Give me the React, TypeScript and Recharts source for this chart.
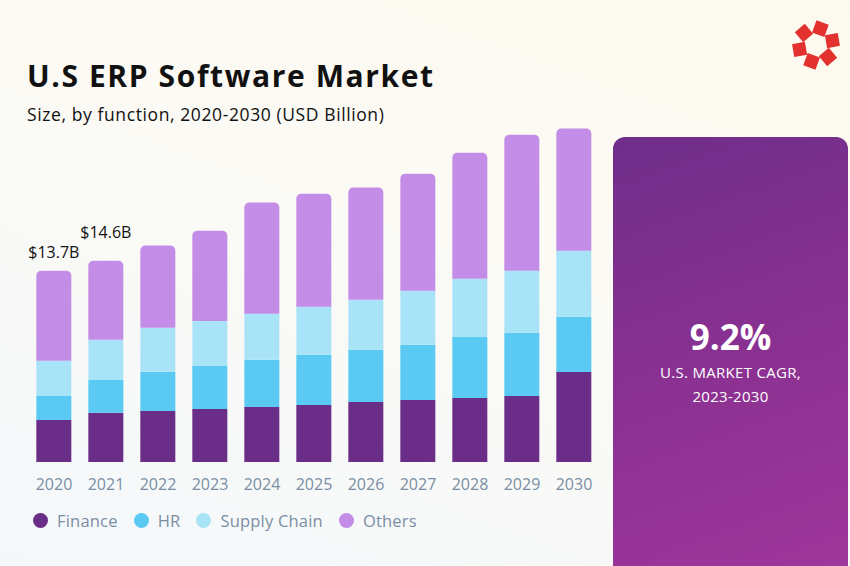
import React from 'react';
import { BarChart, Bar, XAxis, YAxis, Legend, LabelList } from 'recharts';

const years = ['2020', '2021', '2022', '2023', '2024', '2025', '2026', '2027', '2028', '2029', '2030'];
const finance = [3.02, 3.53, 3.67, 3.81, 3.96, 4.1, 4.32, 4.46, 4.6, 4.75, 6.47];
const hr = [1.73, 2.37, 2.81, 3.09, 3.38, 3.6, 3.74, 3.96, 4.39, 4.53, 3.96];
const supplyChain = [2.52, 2.88, 3.17, 3.24, 3.31, 3.45, 3.6, 3.88, 4.17, 4.46, 4.75];
const others = [6.47, 5.68, 5.9, 6.47, 7.99, 8.13, 8.06, 8.42, 9.06, 9.78, 8.78];
const totalLabels = ['$13.7B', '$14.6B', '', '', '', '', '', '', '', '', ''];

const data = years.map((year, i) => ({
  year,
  finance: finance[i],
  hr: hr[i],
  supplyChain: supplyChain[i],
  others: others[i],
  total: totalLabels[i],
}));

const FONT = '"Open Sans", "Noto Sans", sans-serif';
const GREY = '#7a8ea3';

const series = [
  { key: 'finance', name: 'Finance', color: '#6a2e88' },
  { key: 'hr', name: 'HR', color: '#5acaf3' },
  { key: 'supplyChain', name: 'Supply Chain', color: '#a9e3f8' },
  { key: 'others', name: 'Others', color: '#c38ce6' },
];

// little red ring of squares in the corner
function Logo() {
  const squares = [0, 1, 2, 3, 4, 5];
  return (
    <svg width={64} height={64} style={{ position: 'absolute', left: 784, top: 13 }}>
      {squares.map(i => {
        const a = (i * 60 - 75) * Math.PI / 180;
        const cx = 32 + Math.cos(a) * 17;
        const cy = 32 + Math.sin(a) * 17;
        return (
          <rect key={i} x={cx - 6.5} y={cy - 6.5} width={13} height={13} fill="#e2312f"
            transform={`rotate(${i * 60 + 20} ${cx} ${cy})`} />
        );
      })}
    </svg>
  );
}

function renderLegend() {
  return (
    <div style={{ display: 'flex', alignItems: 'center', fontFamily: FONT, fontSize: 16.5, letterSpacing: 0.2, color: GREY }}>
      {series.map(s => (
        <div key={s.key} style={{ display: 'flex', alignItems: 'center', marginRight: 16 }}>
          <span style={{ width: 15, height: 15, borderRadius: '50%', background: s.color, marginRight: 9, display: 'inline-block' }} />
          {s.name}
        </div>
      ))}
    </div>
  );
}

function renderTotal(props: any) {
  const { x, y, width, value, index } = props;
  if (!value) return null;
  const lift = index === 0 ? 13 : 23;
  return (
    <text x={x + width / 2} y={y - lift} textAnchor="middle" fontFamily={FONT} fontSize={16}
      fontWeight={500} fill="#111">
      {value}
    </text>
  );
}

export default function App() {
  return (
    <div style={{
      position: 'absolute', left: 0, top: 0, width: 850, height: 566, overflow: 'hidden',
      background: 'linear-gradient(200deg, #fdf9ee 0%, #fbfaf5 45%, #f4f8fb 100%)',
    }}>
      <div style={{ position: 'absolute', left: 27, top: 55, fontFamily: FONT, fontWeight: 700, fontSize: 30, color: '#111', letterSpacing: 1.6 }}>
        U.S ERP Software Market
      </div>
      <div style={{ position: 'absolute', left: 27, top: 102, fontFamily: FONT, fontSize: 17.5, color: '#111', letterSpacing: 0.6 }}>
        Size, by function, 2020-2030 (USD Billion)
      </div>
      <Logo />

      <div style={{
        position: 'absolute', left: 613, top: 137, width: 235, height: 440, borderRadius: 12,
        background: 'linear-gradient(160deg, #6f2e8a 0%, #8a3192 50%, #a0369b 100%)',
        color: '#fff', fontFamily: FONT, textAlign: 'center',
      }}>
        <div style={{ position: 'absolute', top: 176, width: '100%', fontSize: 35, fontWeight: 700 }}>9.2%</div>
        <div style={{ position: 'absolute', top: 223, width: '100%', fontSize: 15, lineHeight: '24px', letterSpacing: 0.3 }}>
          U.S. MARKET CAGR,<br />2023-2030
        </div>
      </div>

      <BarChart width={620} height={566} data={data} barCategoryGap="16%"
        margin={{ top: 128, right: 20, bottom: 74, left: 28 }}
        style={{ position: 'absolute', left: 0, top: 0 }}>
        <XAxis dataKey="year" axisLine={false} tickLine={false} interval={0} height={30}
          tickMargin={11} tick={{ fill: GREY, fontSize: 16, fontFamily: FONT }} />
        <YAxis hide domain={[0, 24]} />
        <Legend verticalAlign="middle" layout="horizontal" content={renderLegend}
          wrapperStyle={{ top: 509, left: 33, width: 560 }} />
        {series.map(s => (
          <Bar key={s.key} dataKey={s.key} name={s.name} stackId="a" fill={s.color}
            radius={s.key === 'others' ? [5, 5, 0, 0] : 0} isAnimationActive={false}>
            {s.key === 'others' && <LabelList dataKey="total" content={renderTotal} />}
          </Bar>
        ))}
      </BarChart>
    </div>
  );
}
